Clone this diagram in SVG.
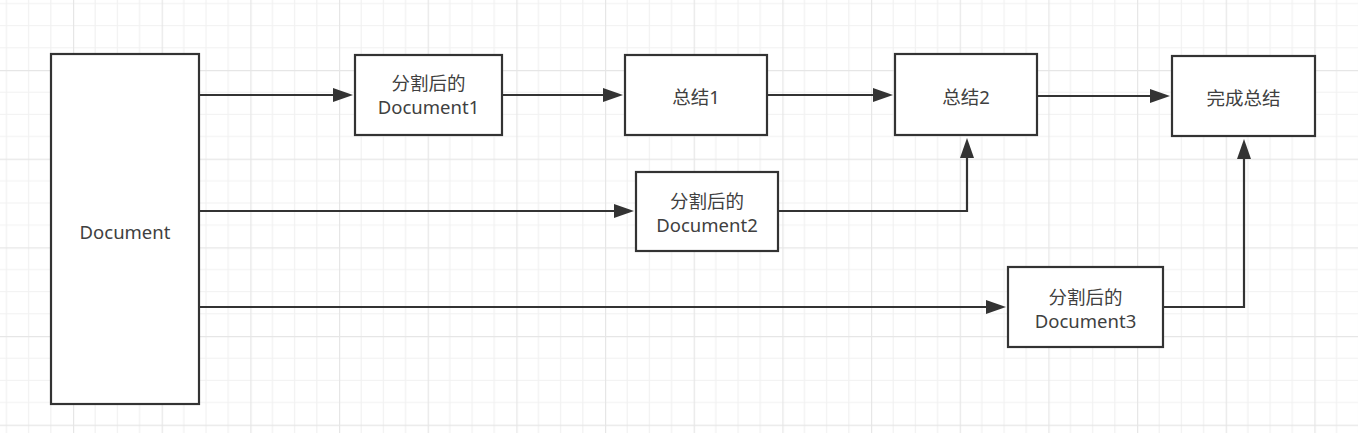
<svg xmlns="http://www.w3.org/2000/svg" width="1358" height="448" viewBox="0 0 1358 448">
<style>
.box{fill:#ffffff;stroke:#333333;stroke-width:2.2}
.lbl{font-family:"Noto Sans","Noto Sans CJK SC",sans-serif;font-size:18.5px;fill:#404040;text-anchor:middle;dominant-baseline:central}
.edge{fill:none;stroke:#333333;stroke-width:2.2}
</style>
<defs>
<pattern id="grid" patternUnits="userSpaceOnUse" x="73" y="70" width="88.67" height="88.67">
<path d="M22.17,0V88.67M44.33,0V88.67M66.5,0V88.67M0,22.17H88.67M0,44.33H88.67M0,66.5H88.67" stroke="#f1f1f1" stroke-width="1.2" fill="none"/>
<path d="M0.5,0V88.67M0,0.5H88.67" stroke="#e6e6e6" stroke-width="1.4" fill="none"/>
</pattern>
<marker id="arr" markerUnits="userSpaceOnUse" markerWidth="20" markerHeight="14" refX="10" refY="7" orient="auto">
<path d="M0,0L20,7L0,14z" fill="#333333"/>
</marker>
</defs>
<rect x="0" y="0" width="1358" height="448" fill="#ffffff"/>
<rect x="0" y="0" width="1358" height="433" fill="url(#grid)"/>
<g id="connectors">
<path class="edge" d="M199,95H343" marker-end="url(#arr)"/>
<path class="edge" d="M502,95H613" marker-end="url(#arr)"/>
<path class="edge" d="M767,95H883" marker-end="url(#arr)"/>
<path class="edge" d="M1037,96H1160" marker-end="url(#arr)"/>
<path class="edge" d="M199,211H624" marker-end="url(#arr)"/>
<path class="edge" d="M778,211H967V148" marker-end="url(#arr)"/>
<path class="edge" d="M199,307H996" marker-end="url(#arr)"/>
<path class="edge" d="M1163,307H1244V149" marker-end="url(#arr)"/>
</g>
<g id="document">
<rect class="box" x="51" y="54" width="148" height="350"/>
<text class="lbl" x="125" y="231">Document</text>
</g>
<g id="doc1">
<rect class="box" x="355" y="55" width="147" height="80"/>
<text class="lbl" x="428.5" y="82">分割后的</text>
<text class="lbl" x="428.5" y="106">Document1</text>
</g>
<g id="sum1">
<rect class="box" x="625" y="55" width="142" height="80"/>
<text class="lbl" x="696" y="96">总结1</text>
</g>
<g id="sum2">
<rect class="box" x="895" y="54" width="142" height="81"/>
<text class="lbl" x="966" y="96">总结2</text>
</g>
<g id="done">
<rect class="box" x="1172" y="56" width="143" height="80"/>
<text class="lbl" x="1243.5" y="97">完成总结</text>
</g>
<g id="doc2">
<rect class="box" x="636" y="172" width="142" height="79"/>
<text class="lbl" x="707" y="200">分割后的</text>
<text class="lbl" x="707" y="224">Document2</text>
</g>
<g id="doc3">
<rect class="box" x="1008" y="267" width="155" height="80"/>
<text class="lbl" x="1085.5" y="296.5">分割后的</text>
<text class="lbl" x="1085.5" y="320">Document3</text>
</g>
</svg>
